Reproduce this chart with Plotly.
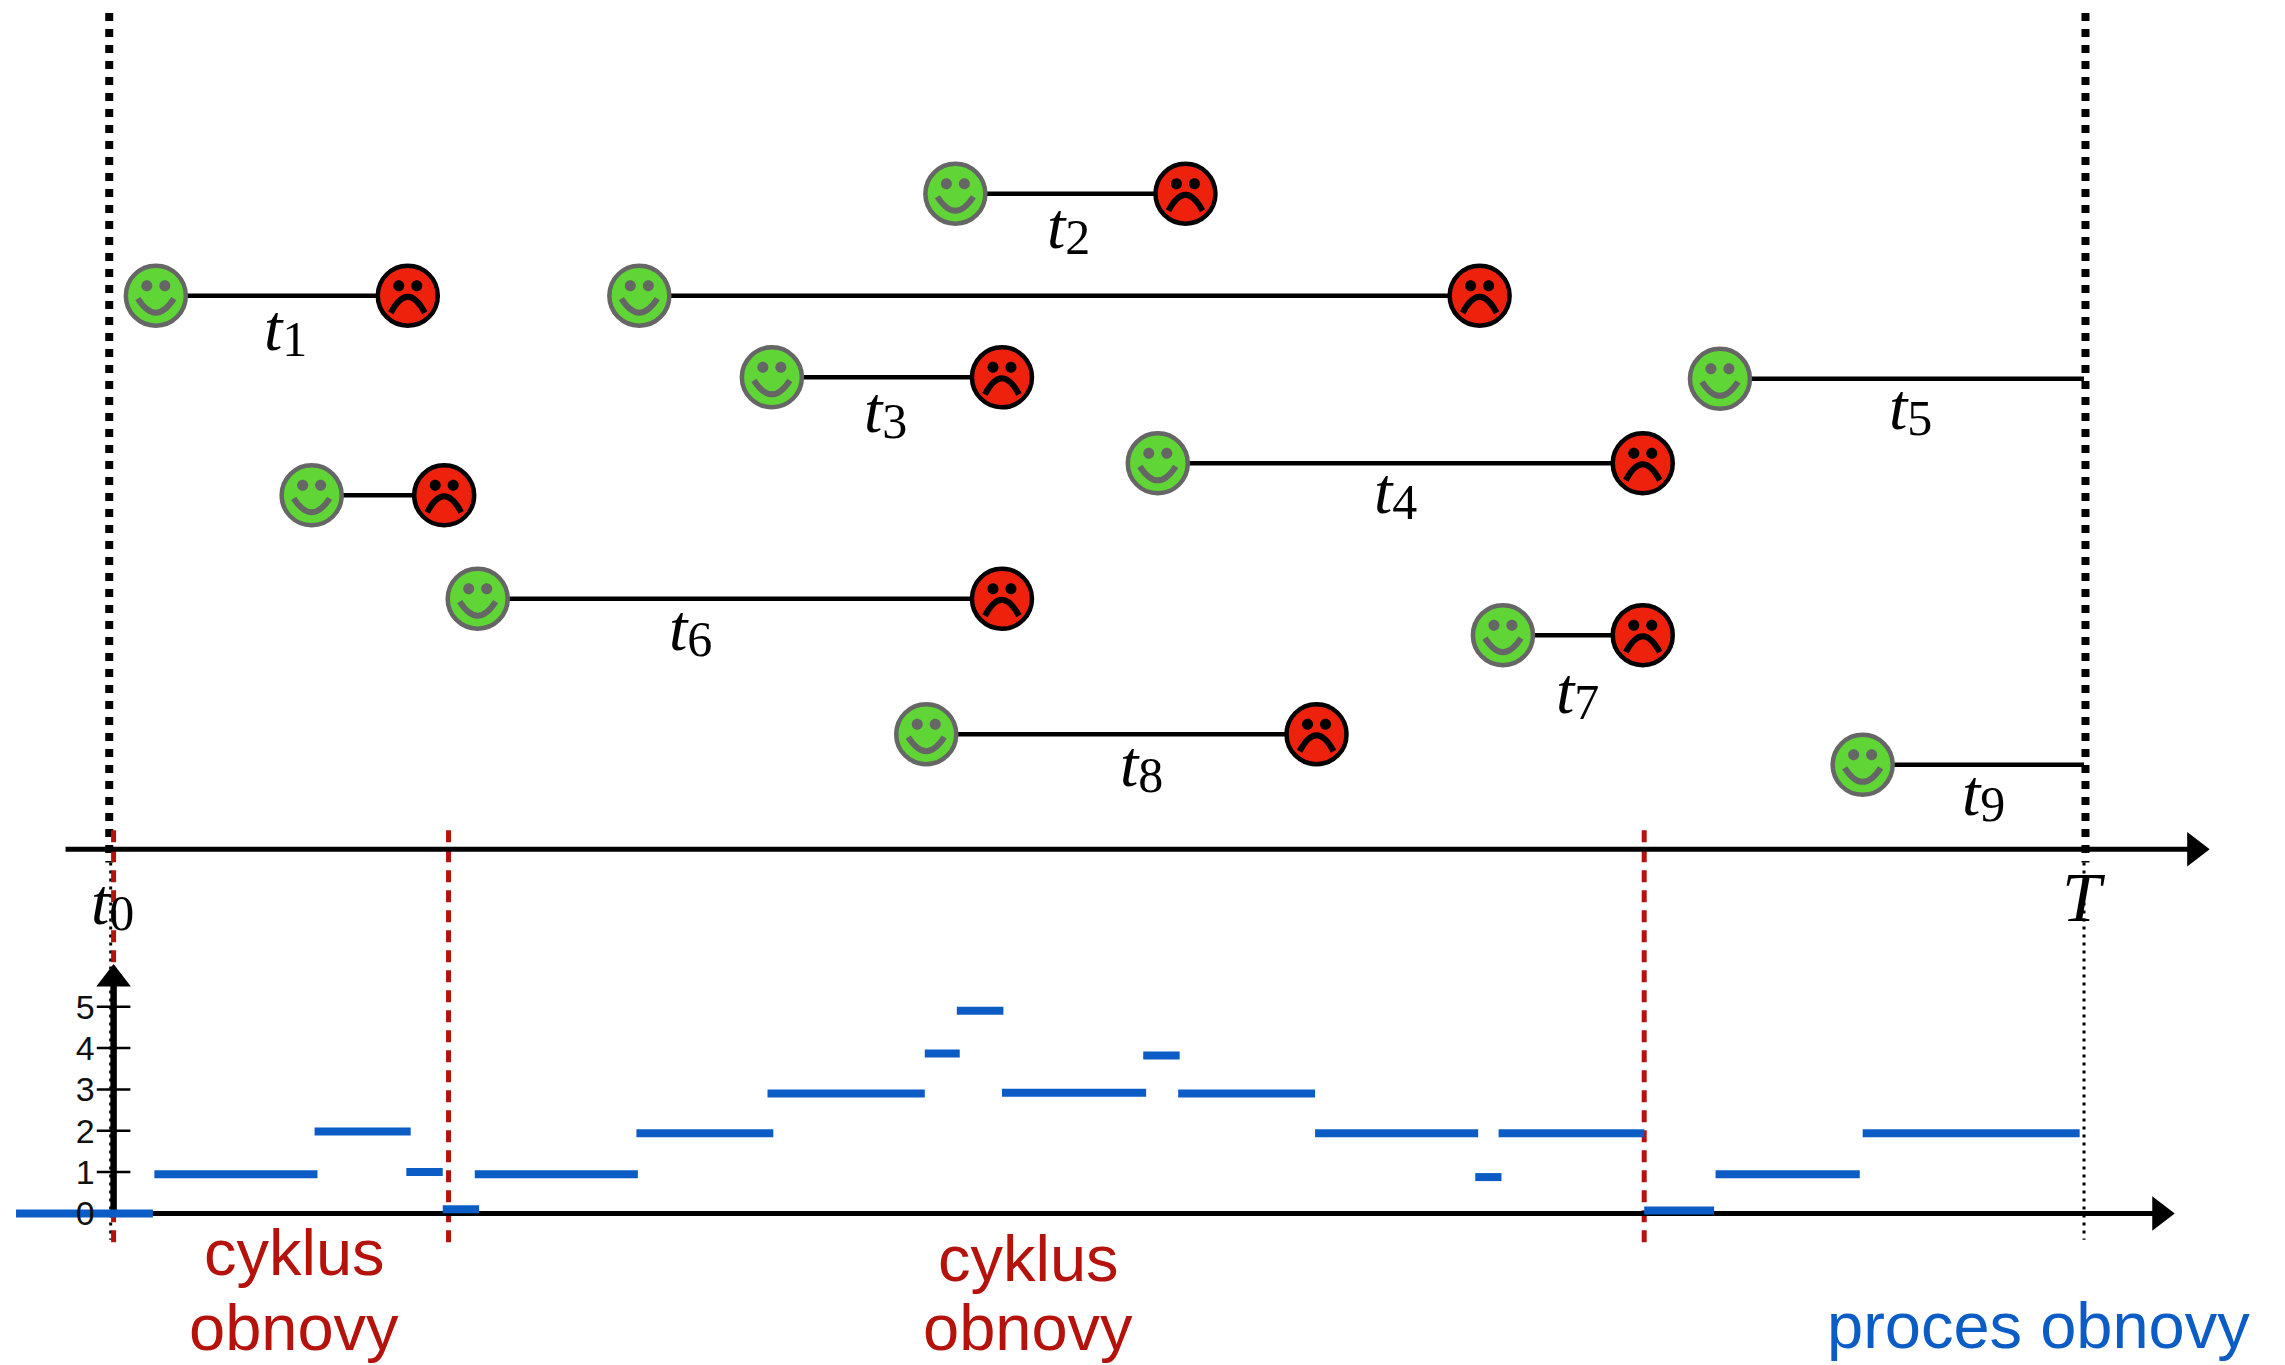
import plotly.graph_objects as go

# --- data (time axis units; rows are vertical stacking levels) ---
T0 = 75
T_END = 1431
cycle_bounds = [78, 308, 1129]
life_start = [107, 656, 439, 530, 795, 1181, 214, 328, 1032, 636, 1279]
life_end = [280, 814, 1016, 688, 1128, 1431, 305, 688, 1128, 904, 1431]
life_row = [203, 133, 203, 259, 318, 260, 340, 411, 436, 504, 525]
life_failed = [True, True, True, True, True, False, True, True, True, True, False]

label_names = ["1", "2", "3", "4", "5", "6", "7", "8", "9"]
label_x = [196, 734, 608, 958, 1312, 474, 1083, 784, 1362]
label_y = [226, 156, 282, 338, 280, 432, 475, 525, 545]

count_start = [11, 106, 216, 279, 304, 326, 437, 527, 635, 657, 688, 785, 809, 903, 1013, 1029, 1129, 1178, 1279]
count_end = [105, 218, 282, 304, 329, 438, 531, 635, 659, 689, 787, 810, 903, 1015, 1031, 1129, 1177, 1277, 1428]
count_value = [0, 0.95, 1.98, 1.0, 0.1, 0.95, 1.94, 2.9, 3.87, 4.9, 2.92, 3.82, 2.9, 1.94, 0.88, 1.94, 0.07, 0.95, 1.94]
count_ticks = [0, 1, 2, 3, 4, 5]

GREEN, GRAY, RED, BLACK = "#5fd635", "#666666", "#ee220c", "#000000"
BLUE, DARKRED = "#0b5cc5", "#b5120c"
SERIF = "Liberation Serif"
SANS = "Liberation Sans"
XMAX, YMAX = 1569, 937

fig = go.Figure()


def line(x, y, color=BLACK, width=4, dash="solid", axis="y"):
    fig.add_trace(go.Scatter(x=x, y=y, mode="lines", yaxis=axis,
                             line=dict(color=color, width=width, dash=dash),
                             hoverinfo="skip", showlegend=False))


# observation window
for x in (T0, T_END + 1):
    line([x, x], [9, 592], width=8, dash="8px,8px")
for x in (T0 + 1, T_END):
    line([x, x], [592, 851], width=3, dash="3px,5px")

# cycle boundaries
for x in cycle_bounds:
    line([x, x], [570, 855], color=DARKRED, width=5, dash="12px,8px")

# time axis and counting axis
line([45, 1505], [583, 583], width=5)
line([78, 1482], [833, 833], width=5)
line([78, 78], [833, 676], width=6.5)
fig.add_trace(go.Scatter(x=[1507, 1483], y=[583, 833], mode="markers", hoverinfo="skip", showlegend=False,
                         marker=dict(symbol="triangle-right", size=30, color=BLACK, line=dict(width=0))))
fig.add_trace(go.Scatter(x=[78], y=[672], mode="markers", hoverinfo="skip", showlegend=False,
                         marker=dict(symbol="triangle-up", size=30, color=BLACK, line=dict(width=0))))
fig.add_trace(go.Scatter(x=[78] * len(count_ticks), y=count_ticks, yaxis="y2", mode="markers",
                         hoverinfo="skip", showlegend=False,
                         marker=dict(symbol="line-ew", size=24, line=dict(color=BLACK, width=2.5))))

# lifetimes
for s, e, r in zip(life_start, life_end, life_row):
    line([s, e], [r, r], width=4.5)

# counting process
for s, e, v in zip(count_start, count_end, count_value):
    line([s, e], [v, v], color=BLUE, width=8, axis="y2")

# faces
fig.add_trace(go.Scatter(x=life_start, y=life_row, mode="markers", hoverinfo="skip", showlegend=False,
                         marker=dict(size=60, color=GREEN, line=dict(color=GRAY, width=4.5))))
fail_x = [e for e, f in zip(life_end, life_failed) if f]
fail_y = [r for r, f in zip(life_row, life_failed) if f]
fig.add_trace(go.Scatter(x=fail_x, y=fail_y, mode="markers", hoverinfo="skip", showlegend=False,
                         marker=dict(size=60, color=RED, line=dict(color=BLACK, width=4.5))))

shapes = []
R = 5.5
K = R * 0.5523


def face(x, y, color, mouth):
    base = dict(type="path", xref="x", yref="y", xsizemode="pixel", ysizemode="pixel",
                xanchor=x, yanchor=y, layer="above")
    for dx in (-9, 9):
        cy = 10
        eye = (f"M {dx-R},{cy} C {dx-R},{cy+K} {dx-K},{cy+R} {dx},{cy+R} "
               f"C {dx+K},{cy+R} {dx+R},{cy+K} {dx+R},{cy} "
               f"C {dx+R},{cy-K} {dx+K},{cy-R} {dx},{cy-R} "
               f"C {dx-K},{cy-R} {dx-R},{cy-K} {dx-R},{cy} Z")
        shapes.append(dict(base, path=eye, fillcolor=color, line=dict(width=0)))
    shapes.append(dict(base, path=mouth, fillcolor="rgba(0,0,0,0)", line=dict(color=color, width=6)))


for s, r in zip(life_start, life_row):
    face(s, r, GRAY, "M -18,-3 Q 0,-31 18,-3")
for x, y in zip(fail_x, fail_y):
    face(x, y, BLACK, "M -17,-17 Q 0,15 17,-17")

# annotations
ann = []
SUB = '<span style="font-size:50px;baseline-shift:-6px">{}</span>'
for name, x, y in zip(label_names, label_x, label_y):
    ann.append(dict(x=x, y=y, text="<i>t</i>" + SUB.format(name), showarrow=False,
                    font=dict(family=SERIF, size=66, color=BLACK)))
ann.append(dict(x=77, y=620, text="<i>t</i>" + SUB.format("0"), showarrow=False,
                font=dict(family=SERIF, size=66, color=BLACK)))
ann.append(dict(x=1431, y=616, text="<i>T</i>", showarrow=False,
                font=dict(family=SERIF, size=70, color=BLACK)))
for x, y, t in [(202, 860, "cyklus"), (202, 911, "obnovy"), (706, 864, "cyklus"), (706, 911, "obnovy")]:
    ann.append(dict(x=x, y=y, text=t, showarrow=False, font=dict(family=SANS, size=65, color=DARKRED)))
ann.append(dict(x=1400, y=910, text="proces obnovy", showarrow=False,
                font=dict(family=SANS, size=65, color=BLUE)))

fig.update_layout(
    width=2285, height=1365, margin=dict(l=0, r=0, t=0, b=0, autoexpand=False),
    paper_bgcolor="white", plot_bgcolor="white", showlegend=False, hovermode=False,
    xaxis=dict(visible=False, range=[0, XMAX], domain=[0, 1], fixedrange=True),
    yaxis=dict(visible=False, range=[YMAX, 0], domain=[0, 1], fixedrange=True),
    yaxis2=dict(overlaying="y", anchor="free", position=78 / XMAX, side="left",
                range=[-(YMAX - 833) / 28.4, 833 / 28.4], tickvals=count_ticks,
                ticks="outside", ticklen=12, tickwidth=0, tickcolor="rgba(0,0,0,0)",
                showgrid=False, zeroline=False, showline=False, fixedrange=True,
                tickfont=dict(family=SANS, size=34, color="#111111")),
    shapes=shapes, annotations=ann,
)
fig.write_html("out.html", post_script="document.body.style.margin='0';",
               config=dict(displayModeBar=False))
